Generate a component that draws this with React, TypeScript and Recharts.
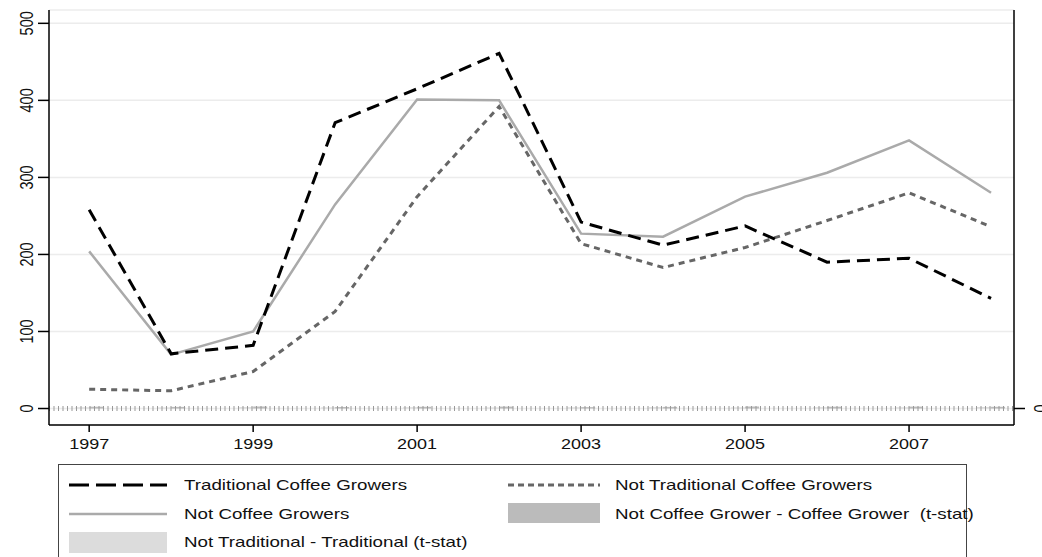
import React from 'react';
import { ComposedChart, Line, Bar, XAxis, YAxis, CartesianGrid, ReferenceLine } from 'recharts';

const years = [1997, 1998, 1999, 2000, 2001, 2002, 2003, 2004, 2005, 2006, 2007, 2008];
const traditional = [258, 71, 82, 371, 415, 461, 242, 212, 237, 190, 195, 143];
const notCoffee = [204, 70, 100, 265, 401, 400, 227, 223, 275, 306, 348, 280];
const notTraditional = [25, 23, 48, 126, 275, 392, 214, 183, 209, 244, 280, 236];
// t-stats drawn on the right axis, they sit almost flat on zero
const tstatNotTradVsTrad = [1.2, 1.0, 1.4, 1.1, 1.3, 1.0, 1.2, 1.4, 1.1, 1.3, 1.2, 1.5];
const tstatNotCoffeeVsCoffee = [1.8, 1.6, 2.0, 1.5, 1.7, 1.9, 1.4, 1.6, 2.0, 1.8, 1.9, 1.7];

const xTicks = [1997, 1999, 2001, 2003, 2005, 2007];
const yTicks = [0, 100, 200, 300, 400, 500];
const rightTicks = [0];

const data = years.map((year, i) => ({
  year,
  traditional: traditional[i],
  notCoffee: notCoffee[i],
  notTraditional: notTraditional[i],
  ntT: tstatNotTradVsTrad[i],
  ncgCg: tstatNotCoffeeVsCoffee[i],
}));

const FONT = '"Liberation Sans", Arial, sans-serif';

const XTick = (props: any) => {
  const { x, y, payload } = props;
  return (
    <text x={x} y={y + 15} textAnchor="middle" fontFamily={FONT} fontSize={15} fill="#111"
      textLength={40} lengthAdjust="spacingAndGlyphs">
      {payload.value}
    </text>
  );
};

// rotated labels, stretched sideways like the original export
const rotatedLabel = (cx: number, y: number, value: any) => (
  <g transform={`translate(${cx}, ${y}) scale(1.3, 1)`}>
    <text transform="rotate(-90)" x={0} y={0} dy={5.2}
      textAnchor="middle" fontFamily={FONT} fontSize={14.5} fill="#111">
      {value}
    </text>
  </g>
);

const LeftTick = (props: any) => rotatedLabel(props.x - 10, props.y, props.payload.value);
const RightTick = (props: any) => rotatedLabel(props.x + 13, props.y, props.payload.value);

const legendText: React.CSSProperties = {
  position: 'absolute',
  fontFamily: FONT,
  fontSize: 15,
  color: '#111',
  transform: 'scaleX(1.25)',
  transformOrigin: 'left center',
  whiteSpace: 'nowrap',
  lineHeight: '18px',
};

const Legend = () => (
  <div style={{ position: 'absolute', left: 58, top: 464, width: 909, height: 100, border: '1.5px solid #444', boxSizing: 'border-box' }}>
    <svg width={909} height={100} style={{ position: 'absolute', left: -1.5, top: -1.5 }}>
      <line x1={11} x2={109} y1={21} y2={21} stroke="#000" strokeWidth={3} strokeDasharray="20 7" />
      <line x1={11} x2={109} y1={50} y2={50} stroke="#aaa" strokeWidth={2.5} />
      <rect x={11} y={68} width={98} height={21} fill="#dcdcdc" />
      <line x1={450} x2={542} y1={21} y2={21} stroke="#666" strokeWidth={3} strokeDasharray="6 4" />
      <rect x={450} y={39} width={92} height={20} fill="#bbb" />
    </svg>
    <span style={{ ...legendText, left: 125, top: 11 }}>Traditional Coffee Growers</span>
    <span style={{ ...legendText, left: 125, top: 40 }}>Not Coffee Growers</span>
    <span style={{ ...legendText, left: 125, top: 68 }}>Not Traditional - Traditional (t-stat)</span>
    <span style={{ ...legendText, left: 556, top: 11 }}>Not Traditional Coffee Growers</span>
    <span style={{ ...legendText, left: 556, top: 40 }}>Not Coffee Grower - Coffee Grower&nbsp;&nbsp;(t-stat)</span>
  </div>
);

export default function App() {
  return (
    <div style={{ position: 'absolute', left: 0, top: 0, width: 1042, height: 557, overflow: 'hidden', background: '#fff' }}>
      <ComposedChart width={1042} height={557} data={data} margin={{ top: 10, right: 0, left: 0, bottom: 102 }} barGap={0}>
        <CartesianGrid yAxisId="left" vertical={false} stroke="#ececec" strokeWidth={1.5} />
        <XAxis dataKey="year" type="number" domain={[1996.51, 2008.28]} ticks={xTicks} height={30}
          axisLine={{ stroke: '#000', strokeWidth: 1.5 }} tickLine={{ stroke: '#000', strokeWidth: 1.5 }}
          tickSize={7} tick={<XTick />} interval={0} allowDataOverflow />
        <YAxis yAxisId="left" domain={[-21.4, 517.3]} ticks={yTicks} width={49}
          axisLine={{ stroke: '#000', strokeWidth: 1.5 }} tickLine={{ stroke: '#000', strokeWidth: 1.5 }}
          tickSize={11} tick={<LeftTick />} interval={0} allowDataOverflow />
        <YAxis yAxisId="right" orientation="right" domain={[-16.5, 398.5]} ticks={rightTicks} width={28}
          axisLine={{ stroke: '#000', strokeWidth: 1.5 }} tickLine={{ stroke: '#000', strokeWidth: 1.5 }}
          tickSize={11} tick={<RightTick />} interval={0} allowDataOverflow />
        <Bar yAxisId="right" dataKey="ntT" fill="#dcdcdc" barSize={14} isAnimationActive={false} />
        <Bar yAxisId="right" dataKey="ncgCg" fill="#bbb" barSize={14} isAnimationActive={false} />
        <ReferenceLine yAxisId="left" y={0} stroke="#999" strokeWidth={5} strokeDasharray="1 3.5" />
        <Line yAxisId="left" type="linear" dataKey="notCoffee" stroke="#aaa" strokeWidth={2.5} dot={false} isAnimationActive={false} />
        <Line yAxisId="left" type="linear" dataKey="notTraditional" stroke="#666" strokeWidth={3} strokeDasharray="6 5" dot={false} isAnimationActive={false} />
        <Line yAxisId="left" type="linear" dataKey="traditional" stroke="#000" strokeWidth={3} strokeDasharray="13 7" dot={false} isAnimationActive={false} />
      </ComposedChart>
      <Legend />
    </div>
  );
}
